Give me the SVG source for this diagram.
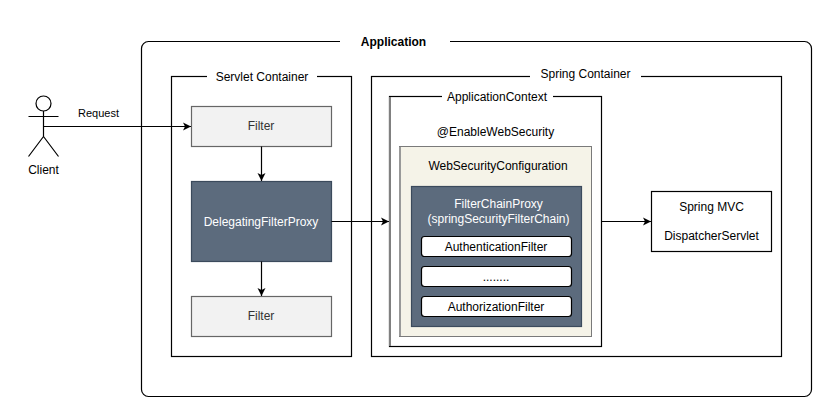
<svg xmlns="http://www.w3.org/2000/svg" width="834" height="418" viewBox="0 0 834 418">
<style>
text{font-family:"Liberation Sans",Arial,sans-serif;font-size:12px;text-anchor:middle;fill:#000}
.box{fill:#fff;stroke:#000;stroke-width:1.2}
.line{fill:none;stroke:#000;stroke-width:1.2}
.filter{fill:#f2f2f2;stroke:#666;stroke-width:1.2}
.filter+text{fill:#333}
.dark{fill:#5c6b7d;stroke:#3b4a5c;stroke-width:1.2}
.lt{fill:#fff}
.pill{fill:#fff;stroke:#000;stroke-width:1.2}
.gap{fill:#fff;stroke:none}
.conn{fill:none;stroke:#000;stroke-width:1.2;marker-end:url(#arrow)}
</style>
<defs>
<marker id="arrow" markerUnits="userSpaceOnUse" markerWidth="10" markerHeight="10" refX="8" refY="4.500" orient="auto">
<path d="M0 0.500L8 4.500L0 8.500L2 4.500Z" fill="#000"/>
</marker>
</defs>
<rect width="834" height="418" fill="#fff"/>
<g id="application">
<rect class="box" x="141.500" y="41.500" width="670" height="355" rx="7" ry="7"/>
<rect class="gap" x="340" y="35" width="110" height="14"/>
<text x="393.500" y="45.500" style="font-weight:bold">Application</text>
</g>
<g id="servlet-container">
<rect class="box" x="171.500" y="76.500" width="180" height="280"/>
<rect class="gap" x="207" y="70" width="110" height="14"/>
<text x="262" y="81">Servlet Container</text>
</g>
<g id="spring-container">
<rect class="box" x="371.500" y="76.500" width="410" height="280"/>
<rect class="gap" x="530" y="70" width="111" height="14"/>
<text x="585.500" y="78">Spring Container</text>
</g>
<g id="application-context">
<rect class="box" x="389.500" y="96.500" width="212" height="250"/>
<line x1="390" y1="97" x2="390" y2="346" stroke="#808080" stroke-width="2"/>
<rect class="gap" x="442" y="90" width="111" height="14"/>
<text x="497" y="101">ApplicationContext</text>
<text x="495.500" y="136">@EnableWebSecurity</text>
</g>
<g id="web-security-configuration">
<rect x="399.500" y="146.500" width="192" height="190" fill="#f5f3e8" stroke="#7a7a7a" stroke-width="1"/>
<line x1="400" y1="147" x2="400" y2="336" stroke="#999" stroke-width="2"/>
<text x="498" y="170">WebSecurityConfiguration</text>
</g>
<g id="filter-chain-proxy">
<rect class="dark" x="411.500" y="186.500" width="170" height="140"/>
<text class="lt" x="498.500" y="208">FilterChainProxy</text>
<text class="lt" x="498.500" y="223">(springSecurityFilterChain)</text>
</g>
<g id="authentication-filter">
<rect class="pill" x="421.500" y="236.500" width="150" height="20" rx="3" ry="3"/>
<text x="496" y="250.500">AuthenticationFilter</text>
</g>
<g id="ellipsis-filter">
<rect class="pill" x="421.500" y="266.500" width="150" height="20" rx="3" ry="3"/>
<text x="496" y="280.500">........</text>
</g>
<g id="authorization-filter">
<rect class="pill" x="421.500" y="296.500" width="150" height="20" rx="3" ry="3"/>
<text x="496" y="310.500">AuthorizationFilter</text>
</g>
<g id="spring-mvc">
<rect class="box" x="651.500" y="191.500" width="120" height="60"/>
<text x="711.500" y="211">Spring MVC</text>
<text x="711.500" y="240">DispatcherServlet</text>
</g>
<g id="filter-top">
<rect class="filter" x="191.500" y="106.500" width="140" height="40"/>
<text x="261" y="130">Filter</text>
</g>
<g id="delegating-filter-proxy">
<rect class="dark" x="191.500" y="181.500" width="140" height="80"/>
<text class="lt" x="261" y="225.500">DelegatingFilterProxy</text>
</g>
<g id="filter-bottom">
<rect class="filter" x="191.500" y="296.500" width="140" height="40"/>
<text x="261" y="320">Filter</text>
</g>
<g id="client">
<circle class="line" cx="43.500" cy="103.500" r="7.500"/>
<path class="line" d="M43.500 111V136.500M28.500 116.500H58.500M43.500 136.500L28.500 156.500M43.500 136.500L58.500 156.500"/>
<text x="43.500" y="174">Client</text>
</g>
<g id="connectors">
<line class="conn" x1="43.500" y1="126.500" x2="191" y2="126.500"/>
<text x="98.500" y="116.500" style="font-size:11px">Request</text>
<line class="conn" x1="261.500" y1="146.500" x2="261.500" y2="181"/>
<line class="conn" x1="261.500" y1="261.500" x2="261.500" y2="296"/>
<line class="conn" x1="331.500" y1="221.500" x2="389" y2="221.500"/>
<line class="conn" x1="601.500" y1="221.500" x2="651" y2="221.500"/>
</g>
</svg>
